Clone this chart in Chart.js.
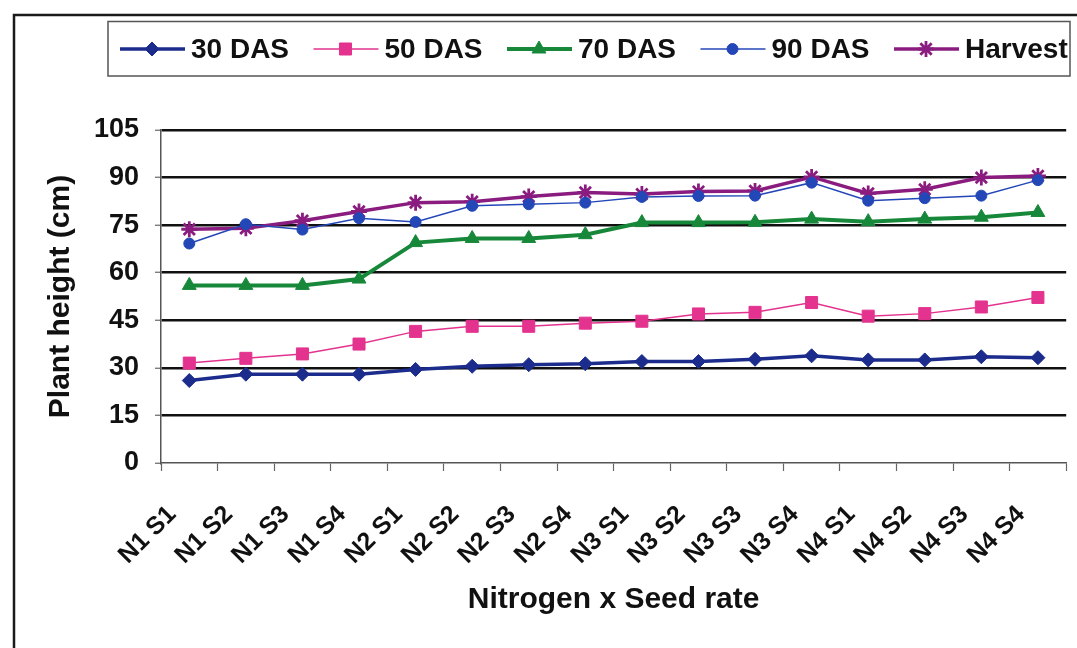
<!DOCTYPE html>
<html>
<head>
<meta charset="utf-8">
<title>Plant height</title>
<script src="https://cdn.jsdelivr.net/npm/chart.js"></script>
<style>
  html, body { margin: 0; padding: 0; background: #ffffff; }
  #wrap { width: 1077px; height: 648px; }
</style>
</head>
<body>
<div id="wrap"><canvas id="chart" width="1077" height="648"></canvas></div>
<script>
// Treatment combinations (nitrogen level x seed rate)
const categories = ['N1 S1', 'N1 S2', 'N1 S3', 'N1 S4',
                    'N2 S1', 'N2 S2', 'N2 S3', 'N2 S4',
                    'N3 S1', 'N3 S2', 'N3 S3', 'N3 S4',
                    'N4 S1', 'N4 S2', 'N4 S3', 'N4 S4'];

// Plant height (cm) at each growth stage
const das30   = [26.0, 28.0, 28.0, 28.0, 29.5, 30.5, 31.0, 31.3, 32.0, 32.0, 32.7, 33.8, 32.5, 32.5, 33.5, 33.2];
const das50   = [31.5, 33.0, 34.4, 37.5, 41.5, 43.1, 43.1, 44.1, 44.7, 47.0, 47.5, 50.6, 46.3, 47.1, 49.2, 52.2];
const das70   = [56.0, 56.0, 56.0, 58.0, 69.5, 70.8, 70.8, 72.0, 75.8, 75.8, 75.9, 76.9, 76.1, 76.9, 77.5, 79.0];
const das90   = [69.2, 75.3, 73.6, 77.2, 76.0, 81.1, 81.6, 82.1, 83.9, 84.2, 84.3, 88.4, 82.7, 83.5, 84.3, 89.2];
const harvest = [73.7, 74.0, 76.4, 79.3, 82.1, 82.4, 84.0, 85.3, 84.8, 85.6, 85.8, 90.2, 85.0, 86.3, 90.0, 90.5];

// Y axis range and tick labels
const yTicks = [0, 15, 30, 45, 60, 75, 90, 105];

const FONT = '"Liberation Sans", Arial, Helvetica, sans-serif';

function series(label, data, color, width, style, radius, ptBorder) {
  return {
    label: label,
    data: data,
    borderColor: color,
    backgroundColor: color,
    borderWidth: width,
    pointStyle: style,
    pointRadius: radius,
    pointHoverRadius: radius,
    pointBackgroundColor: color,
    pointBorderColor: color,
    pointBorderWidth: ptBorder,
    tension: 0,
    fill: false
  };
}

const datasets = [
  series('30 DAS',  das30,   '#1c2c8c', 3.5, 'rectRot',  7,   1),
  series('50 DAS',  das50,   '#e3338f', 1.5, 'rect',     8.5, 1),
  series('70 DAS',  das70,   '#17883a', 4,   'triangle', 8,   1),
  series('90 DAS',  das90,   '#2447b8', 1.5, 'circle',   5.5, 1),
  series('Harvest', harvest, '#8a1c80', 3.5, 'star',     8,   2.8)
];

// Page background, outer frame and the boxed legend across the top
const decorPlugin = {
  id: 'decor',
  beforeDraw(chart) {
    const ctx = chart.ctx;
    ctx.save();
    ctx.fillStyle = '#ffffff';
    ctx.fillRect(0, 0, chart.width, chart.height);
    ctx.restore();
  },
  afterDraw(chart) {
    const ctx = chart.ctx;
    ctx.save();
    // frame
    ctx.strokeStyle = '#1a1a1a';
    ctx.lineWidth = 2.5;
    ctx.beginPath();
    ctx.moveTo(14, chart.height);
    ctx.lineTo(14, 15);
    ctx.lineTo(chart.width, 15);
    ctx.stroke();

    // legend box
    ctx.strokeStyle = '#555555';
    ctx.lineWidth = 1.5;
    ctx.strokeRect(108, 21.5, 962, 54.5);

    const y = 49;
    chart.data.datasets.forEach((ds, i) => {
      const x0 = 120 + i * 193.5;
      ctx.strokeStyle = ds.borderColor;
      ctx.lineWidth = ds.borderWidth;
      ctx.beginPath();
      ctx.moveTo(x0, y);
      ctx.lineTo(x0 + 65, y);
      ctx.stroke();
      ctx.fillStyle = ds.pointBackgroundColor;
      ctx.strokeStyle = ds.pointBorderColor;
      ctx.lineWidth = ds.pointBorderWidth;
      Chart.helpers.drawPoint(ctx, {
        pointStyle: ds.pointStyle,
        radius: ds.pointRadius,
        borderWidth: ds.pointBorderWidth,
        rotation: 0
      }, x0 + 32, y);
      ctx.fillStyle = '#111111';
      ctx.font = 'bold 28px ' + FONT;
      ctx.textAlign = 'left';
      ctx.textBaseline = 'middle';
      ctx.fillText(ds.label, x0 + 71, y + 1);
    });
    ctx.restore();
  }
};

new Chart(document.getElementById('chart'), {
  type: 'line',
  data: { labels: categories, datasets: datasets },
  plugins: [decorPlugin],
  options: {
    responsive: false,
    devicePixelRatio: 1,
    animation: false,
    events: [],
    layout: { padding: { top: 130, left: 0, right: 9, bottom: 0 } },
    plugins: {
      legend: { display: false },
      tooltip: { enabled: false },
      title: { display: false }
    },
    scales: {
      x: {
        type: 'category',
        offset: true,
        grid: {
          display: true,
          offset: true,
          drawOnChartArea: false,
          drawTicks: true,
          tickLength: 8,
          tickColor: '#666666',
          tickWidth: 1.2
        },
        border: { display: true, color: '#555555', width: 1.5 },
        ticks: {
          autoSkip: false,
          maxRotation: 45,
          minRotation: 45,
          padding: 29,
          labelOffset: -17,
          color: '#111111',
          font: { family: FONT, size: 25, weight: 'bold' }
        },
        title: {
          display: true,
          text: 'Nitrogen x Seed rate',
          color: '#111111',
          padding: 30,
          font: { family: FONT, size: 30, weight: 'bold' }
        },
        afterFit(scale) {
          scale.height = 185;
          scale.paddingLeft = 0;
          scale.paddingRight = 0;
        }
      },
      y: {
        type: 'linear',
        min: 0,
        max: 105,
        afterBuildTicks(scale) {
          scale.ticks = yTicks.map(v => ({ value: v }));
        },
        grid: {
          display: true,
          drawOnChartArea: true,
          drawTicks: true,
          tickLength: 6,
          color: (c) => (c.tick && c.tick.value === 0) ? 'rgba(0,0,0,0)' : '#111111',
          lineWidth: 2.5,
          tickColor: '#666666',
          tickWidth: 1.2
        },
        border: { display: true, color: '#555555', width: 1.5 },
        ticks: {
          padding: 16,
          color: '#111111',
          font: { family: FONT, size: 27, weight: 'bold' }
        },
        title: {
          display: true,
          text: 'Plant height (cm)',
          color: '#111111',
          padding: 43,
          font: { family: FONT, size: 30, weight: 'bold' }
        },
        afterFit(scale) {
          scale.width = 161;
          scale.paddingTop = 0;
          scale.paddingBottom = 0;
        }
      }
    }
  }
});
</script>
</body>
</html>
